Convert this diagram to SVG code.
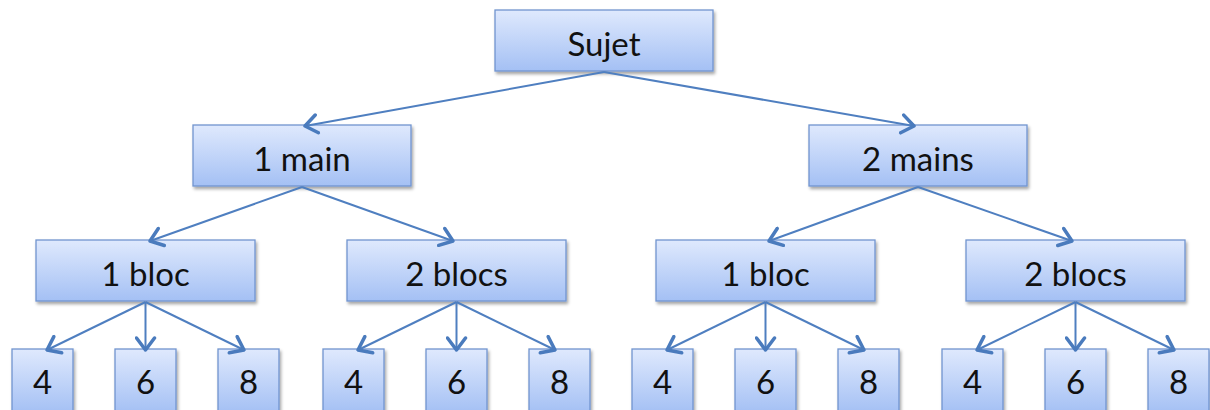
<svg xmlns="http://www.w3.org/2000/svg" width="1210" height="410" viewBox="0 0 1210 410">
<defs>
<linearGradient id="g" x1="0" y1="0" x2="0" y2="1">
<stop offset="0" stop-color="#dfe9fd"/>
<stop offset="1" stop-color="#a4c0f4"/>
</linearGradient>
<filter id="sh" x="-10%" y="-10%" width="130%" height="140%">
<feDropShadow dx="1.5" dy="2.5" stdDeviation="1.8" flood-color="#000" flood-opacity="0.35"/>
</filter>
<marker id="ah" viewBox="0 0 16 22" refX="14" refY="11" markerWidth="16" markerHeight="22" markerUnits="userSpaceOnUse" orient="auto">
<path d="M2,2 L14,11 L2,20" fill="none" stroke="#4a7bbd" stroke-width="3.5" stroke-linecap="round" stroke-linejoin="round"/>
</marker>
</defs>
<style>
.b{fill:url(#g);stroke:#7194cf;stroke-width:1.3;filter:url(#sh)}
.t{font-family:Lato,"Open Sans",sans-serif;font-size:33px;fill:#111;text-anchor:middle}
.c line{stroke:#4f7fc0;stroke-width:2;marker-end:url(#ah)}
</style>
<rect width="1210" height="410" fill="#fff"/>
<g id="sujet"><rect class="b" x="495" y="10" width="218" height="61"/><text class="t" x="604" y="56">Sujet</text></g>
<g id="main1"><rect class="b" x="193" y="125" width="218" height="61"/><text class="t" x="302" y="171">1 main</text></g>
<g id="mains2"><rect class="b" x="809" y="125" width="218" height="61"/><text class="t" x="918" y="171">2 mains</text></g>
<g id="m1bloc1"><rect class="b" x="36" y="240" width="219" height="61"/><text class="t" x="145.5" y="286">1 bloc</text></g>
<g id="m1blocs2"><rect class="b" x="347" y="240" width="219" height="61"/><text class="t" x="456.5" y="286">2 blocs</text></g>
<g id="m2bloc1"><rect class="b" x="656" y="240" width="219" height="61"/><text class="t" x="765.5" y="286">1 bloc</text></g>
<g id="m2blocs2"><rect class="b" x="966" y="240" width="219" height="61"/><text class="t" x="1075.5" y="286">2 blocs</text></g>
<g id="l1"><rect class="b" x="12" y="349" width="61" height="64"/><text class="t" x="42.5" y="394">4</text></g>
<g id="l2"><rect class="b" x="115" y="349" width="61" height="64"/><text class="t" x="145.5" y="394">6</text></g>
<g id="l3"><rect class="b" x="218" y="349" width="61" height="64"/><text class="t" x="248.5" y="394">8</text></g>
<g id="l4"><rect class="b" x="323" y="349" width="61" height="64"/><text class="t" x="353.5" y="394">4</text></g>
<g id="l5"><rect class="b" x="426" y="349" width="61" height="64"/><text class="t" x="456.5" y="394">6</text></g>
<g id="l6"><rect class="b" x="529" y="349" width="61" height="64"/><text class="t" x="559.5" y="394">8</text></g>
<g id="l7"><rect class="b" x="632" y="349" width="61" height="64"/><text class="t" x="662.5" y="394">4</text></g>
<g id="l8"><rect class="b" x="735" y="349" width="61" height="64"/><text class="t" x="765.5" y="394">6</text></g>
<g id="l9"><rect class="b" x="838" y="349" width="61" height="64"/><text class="t" x="868.5" y="394">8</text></g>
<g id="l10"><rect class="b" x="942" y="349" width="61" height="64"/><text class="t" x="972.5" y="394">4</text></g>
<g id="l11"><rect class="b" x="1045" y="349" width="61" height="64"/><text class="t" x="1075.5" y="394">6</text></g>
<g id="l12"><rect class="b" x="1148" y="349" width="61" height="64"/><text class="t" x="1178.5" y="394">8</text></g>
<g class="c" id="connectors">
<line x1="604" y1="72" x2="305" y2="126"/>
<line x1="604" y1="72" x2="914" y2="126"/>
<line x1="302" y1="187" x2="150" y2="241"/>
<line x1="302" y1="187" x2="453" y2="241"/>
<line x1="918" y1="187" x2="769" y2="241"/>
<line x1="918" y1="187" x2="1072" y2="241"/>
<line x1="145.5" y1="302" x2="47" y2="350"/>
<line x1="145.5" y1="302" x2="145.5" y2="350"/>
<line x1="145.5" y1="302" x2="244" y2="350"/>
<line x1="456.5" y1="302" x2="358" y2="350"/>
<line x1="456.5" y1="302" x2="456.5" y2="350"/>
<line x1="456.5" y1="302" x2="555" y2="350"/>
<line x1="765.5" y1="302" x2="667" y2="350"/>
<line x1="765.5" y1="302" x2="765.5" y2="350"/>
<line x1="765.5" y1="302" x2="864" y2="350"/>
<line x1="1075.5" y1="302" x2="977" y2="350"/>
<line x1="1075.5" y1="302" x2="1075.5" y2="350"/>
<line x1="1075.5" y1="302" x2="1174" y2="350"/>
</g>
</svg>
